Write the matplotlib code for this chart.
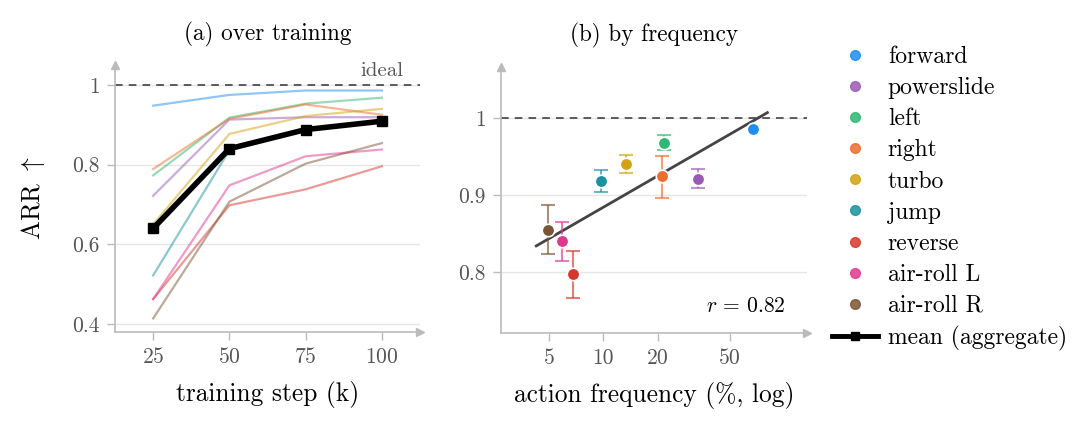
import numpy as np
import matplotlib
matplotlib.use('Agg')
import matplotlib.pyplot as plt
from matplotlib.lines import Line2D
from matplotlib.ticker import FuncFormatter, NullLocator, FixedLocator

plt.rcParams['font.family'] = 'serif'
plt.rcParams['font.serif'] = ['cmr10', 'DejaVu Serif']
plt.rcParams['mathtext.fontset'] = 'cm'
plt.rcParams['axes.unicode_minus'] = False
plt.rcParams['axes.formatter.use_mathtext'] = True

# actions and colours
actions = ['forward', 'powerslide', 'left', 'right', 'turbo', 'jump',
           'reverse', 'air-roll L', 'air-roll R']
colors = ['#1f8ef1', '#9b59b6', '#2eb872', '#ee6c2c', '#d4a20f', '#18929e',
          '#d7372b', '#e0388f', '#7a5634']

# (a) ARR over training
steps = [25, 50, 75, 100]
arr_train = {
    'forward':    [0.948, 0.975, 0.986, 0.986],
    'powerslide': [0.722, 0.913, 0.919, 0.919],
    'left':       [0.773, 0.918, 0.953, 0.968],
    'right':      [0.789, 0.915, 0.951, 0.925],
    'turbo':      [0.650, 0.877, 0.922, 0.940],
    'jump':       [0.522, 0.836, 0.890, 0.910],
    'reverse':    [0.4625, 0.698, 0.738, 0.796],
    'air-roll L': [0.4625, 0.748, 0.821, 0.838],
    'air-roll R': [0.414, 0.707, 0.8025, 0.854],
}
arr_mean = [0.640, 0.840, 0.888, 0.909]

# (b) final ARR vs action frequency
freq = [67.0, 33.3, 21.6, 21.0, 13.3, 9.65, 6.8, 5.93, 4.95]
arr_final = [0.986, 0.921, 0.968, 0.924, 0.940, 0.918, 0.797, 0.840, 0.855]
err_lo = [0.0, 0.012, 0.010, 0.028, 0.012, 0.014, 0.031, 0.025, 0.032]
err_hi = [0.0, 0.013, 0.010, 0.027, 0.012, 0.015, 0.030, 0.025, 0.032]
r_value = 0.82

spine_c = '#bbbbbb'
tick_c = '#555555'

fig = plt.figure(figsize=(10.8, 4.28), dpi=100)
ax1 = fig.add_axes([0.1065, 0.2243, 0.2824, 0.6238])
ax2 = fig.add_axes([0.4639, 0.2220, 0.2833, 0.6215])


def style(ax):
    for s in ['top', 'right']:
        ax.spines[s].set_visible(False)
    for s in ['left', 'bottom']:
        ax.spines[s].set_color(spine_c)
        ax.spines[s].set_linewidth(1.2)
    ax.tick_params(colors=spine_c, labelcolor=tick_c, labelsize=15.5,
                   length=6, width=1.0, pad=5)
    ax.grid(axis='y', color='#e6e6e6', lw=1.0)
    ax.set_axisbelow(True)
    ax.plot(1, 0, '>', color=spine_c, ms=6, transform=ax.transAxes,
            clip_on=False)
    ax.plot(0, 1, '^', color=spine_c, ms=6, transform=ax.transAxes,
            clip_on=False)


# panel (a)
style(ax1)
for a, c in zip(actions, colors):
    ax1.plot(steps, arr_train[a], color=c, lw=1.6, alpha=0.5)
ax1.plot(steps, arr_mean, color='black', lw=4, marker='s', ms=7)
ax1.axhline(1.0, color='#333333', lw=1.1, ls=(0, (5, 4)))
ax1.text(107, 1.012, 'ideal', ha='right', va='bottom', fontsize=15,
         color=tick_c)
ax1.set_xlim(12.5, 112.5)
ax1.set_ylim(0.38, 1.05)
ax1.set_xticks(steps)
ax1.set_yticks([0.4, 0.6, 0.8, 1.0])
ax1.yaxis.set_major_formatter(FuncFormatter(lambda v, p: '%g' % v))
ax1.set_xlabel('training step (k)', fontsize=18.3, labelpad=10)
ax1.set_ylabel(r'ARR $\uparrow$', fontsize=18.3, labelpad=18)
ax1.set_title('(a) over training', fontsize=16.7, pad=18)

# panel (b)
style(ax2)
ax2.set_xscale('log')
ax2.axhline(1.0, color='#333333', lw=1.1, ls=(0, (5, 4)))
slope, icpt = np.polyfit(np.log10(freq), arr_final, 1)
xfit = np.array([min(freq) * 0.86, max(freq) * 1.2])
ax2.plot(xfit, slope * np.log10(xfit) + icpt, color='#444444', lw=2)
for x, y, lo, hi, c in zip(freq, arr_final, err_lo, err_hi, colors):
    if lo > 0 or hi > 0:
        ax2.errorbar(x, y, yerr=[[lo], [hi]], fmt='none', ecolor=c,
                     alpha=0.65, elinewidth=1.5, capsize=5, capthick=1.5)
    ax2.plot(x, y, 'o', color=c, ms=9, mec='white', mew=1.2, zorder=5)
ax2.text(0.93, 0.1, r'$r\,=\,%.2f$' % r_value, transform=ax2.transAxes,
         ha='right', va='center', fontsize=15.5)
ax2.set_xlim(2.72, 133)
ax2.set_ylim(0.721, 1.066)
ax2.xaxis.set_major_locator(FixedLocator([5, 10, 20, 50]))
ax2.xaxis.set_minor_locator(NullLocator())
ax2.xaxis.set_major_formatter(FuncFormatter(lambda v, p: '%g' % v))
ax2.set_yticks([0.8, 0.9, 1.0])
ax2.yaxis.set_major_formatter(FuncFormatter(lambda v, p: '%g' % v))
ax2.set_xlabel('action frequency (%, log)', fontsize=18.3, labelpad=10)
ax2.set_title('(b) by frequency', fontsize=16.7, pad=18)

# legend
handles = [Line2D([], [], ls='none', marker='o', color=c, alpha=0.85, ms=7)
           for c in colors]
handles.append(Line2D([], [], color='black', lw=3.5, marker='s', ms=6))
fig.legend(handles, actions + ['mean (aggregate)'], loc='upper left',
           bbox_to_anchor=(0.7505, 0.942), frameon=False, fontsize=17,
           labelspacing=0.38, handlelength=1.95, handletextpad=0.42)

fig.savefig('out.png', dpi=100)
